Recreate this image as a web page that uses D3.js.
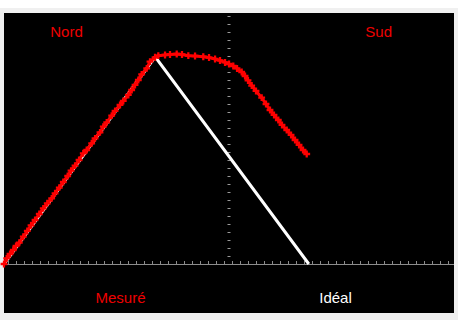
<!DOCTYPE html>
<html>
<head>
<meta charset="utf-8">
<script src="https://cdn.jsdelivr.net/npm/d3@7"></script>
<style>
  body { margin: 0; background: #ffffff; }
  svg { display: block; }
</style>
</head>
<body>
<svg id="chart" width="458" height="320"></svg>
<script>
// readings in screen divisions (1 div = one graticule step)
var measuredX = [0, 0.34, 0.75, 1.16, 1.5, 1.91, 2.41, 2.91, 3.38, 3.88, 4.41, 4.91, 5.41, 5.96, 6.38, 6.91, 7.41, 7.96, 8.38, 8.88,
  9.38, 9.91, 10.34, 10.96, 11.38, 12.0, 12.41, 12.84, 13.46, 13.88, 14.5, 14.91, 15.54, 15.96, 16.38, 16.79, 17.21, 17.84, 18.25, 18.88,
  19.29, 20.13, 20.75, 21.59, 22.25, 23.04, 23.88, 24.91, 25.63, 26.38, 27.0, 27.63, 28.13, 28.66, 29.13, 29.71, 30.13, 30.5, 30.96, 31.5,
  32.21, 32.75, 33.25, 33.75, 34.29, 34.75, 35.34, 35.88, 36.38, 36.88, 37.38, 37.84]
var measuredY = [0, 0.71, 1.25, 1.75, 2.25, 2.66, 3.41, 4.13, 4.84, 5.5, 6.25, 6.96, 7.59, 8.21, 8.84, 9.54, 10.25, 11.0, 11.66, 12.29,
  13.0, 13.84, 14.25, 15.09, 15.71, 16.46, 17.16, 17.71, 18.54, 19.13, 19.88, 20.38, 21.13, 21.75, 22.38, 23.0, 23.71, 24.46, 25.29, 25.84,
  26.04, 26.13, 26.19, 26.25, 26.19, 26.04, 26.0, 25.91, 25.81, 25.63, 25.44, 25.19, 25.0, 24.75, 24.44, 24.0, 23.5, 22.94, 22.31, 21.63,
  20.79, 20.0, 19.25, 18.63, 18.0, 17.38, 16.75, 16.13, 15.5, 14.88, 14.25, 13.75]
var idealX = [0, 18.9, 38.1]
var idealY = [0, 25.9, 0]

var cornerLabels = ["Nord", "Sud"]
var seriesLabels = ["Mesuré", "Idéal"]

var measured = measuredX.map(function(d, i) { return [d, measuredY[i]] })
var ideal = idealX.map(function(d, i) { return [d, idealY[i]] })

var svg = d3.select("#chart")

// frame
svg.append("rect").attr("x", 0).attr("y", 8).attr("width", 458).attr("height", 312).style("fill", "#f0f0f0")
svg.append("rect").attr("x", 4).attr("y", 13).attr("width", 450).attr("height", 300).style("fill", "#000")

var x = d3.scaleLinear().domain([0, 56.25]).range([4, 454])
var y = d3.scaleLinear().domain([0, 31.375]).range([264, 13])

// vertical centre graticule: dashes only
svg.selectAll(".vdash")
  .data(d3.range(1, 32))
  .enter().append("line")
  .attr("x1", x(28.125) - 1.5)
  .attr("x2", x(28.125) + 1.5)
  .attr("y1", function(d) { return y(d) + 0.5 })
  .attr("y2", function(d) { return y(d) + 0.5 })
  .style("stroke", "#9a9a9a")
  .style("stroke-width", 1)

// horizontal axis with small ticks above
svg.append("line")
  .attr("x1", x(0)).attr("x2", x(56.25))
  .attr("y1", y(0) + 0.5).attr("y2", y(0) + 0.5)
  .style("stroke", "#8c8c8c")
  .style("stroke-width", 1)

svg.selectAll(".htick")
  .data(d3.range(0.5, 56, 1))
  .enter().append("line")
  .attr("x1", function(d) { return x(d) + 0.5 })
  .attr("x2", function(d) { return x(d) + 0.5 })
  .attr("y1", y(0) - 3)
  .attr("y2", y(0))
  .style("stroke", "#8c8c8c")
  .style("stroke-width", 1)

var line = d3.line()
  .x(function(d) { return x(d[0]) })
  .y(function(d) { return y(d[1]) })

// ideal
svg.append("path")
  .attr("d", line(ideal))
  .style("fill", "none")
  .style("stroke", "#fff")
  .style("stroke-width", 3)

// measured
svg.append("path")
  .attr("d", line(measured))
  .style("fill", "none")
  .style("stroke", "#ff0000")
  .style("stroke-width", 3)
  .style("stroke-linejoin", "round")

svg.selectAll(".pt")
  .data(measured)
  .enter().append("path")
  .attr("d", d3.symbol().type(d3.symbolCross).size(26))
  .attr("transform", function(d) { return "translate(" + x(d[0]) + "," + y(d[1]) + ")" })
  .style("fill", "#ff0000")

// labels
var font = "'Liberation Sans', Arial, sans-serif"
svg.append("text").attr("x", 66.5).attr("y", 37).text(cornerLabels[0])
  .style("fill", "#ee0000").style("font-family", font).style("font-size", "15px").attr("text-anchor", "middle")
svg.append("text").attr("x", 378.7).attr("y", 37).text(cornerLabels[1])
  .style("fill", "#ee0000").style("font-family", font).style("font-size", "15px").attr("text-anchor", "middle")
svg.append("text").attr("x", 120.5).attr("y", 303).text(seriesLabels[0])
  .style("fill", "#ee0000").style("font-family", font).style("font-size", "15px").attr("text-anchor", "middle")
svg.append("text").attr("x", 335.5).attr("y", 303).text(seriesLabels[1])
  .style("fill", "#fff").style("font-family", font).style("font-size", "15px").attr("text-anchor", "middle")
</script>
</body>
</html>
